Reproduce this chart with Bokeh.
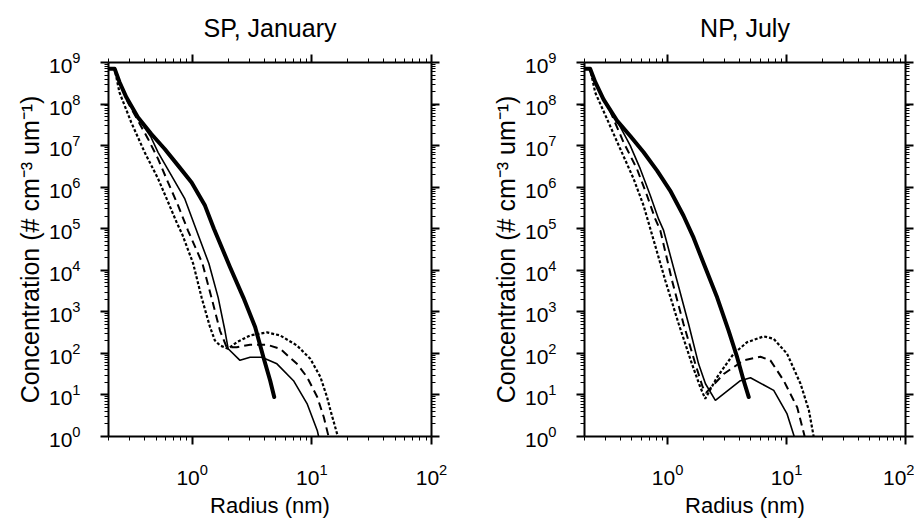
from bokeh.plotting import figure
from bokeh.layouts import row
from bokeh.models import LogAxis, FixedTicker, Range1d, CustomJSTickFormatter, Title
from bokeh.embed import file_html
from bokeh.resources import INLINE

FONT = "Liberation Sans"

# ---------------- tick values ----------------
x_major = [1, 10, 100]
x_minor = [0.2, 0.3, 0.4, 0.5, 0.6, 0.7, 0.8, 0.9,
           2, 3, 4, 5, 6, 7, 8, 9,
           20, 30, 40, 50, 60, 70, 80, 90]
y_major = [1, 1e1, 1e2, 1e3, 1e4, 1e5, 1e6, 1e7, 1e8, 1e9]
y_minor = [m * d for d in y_major[:-1] for m in (2, 3, 4, 5, 6, 7, 8, 9)]

# ---------------- SP, January ----------------
sp_thick_r = [0.2, 0.225, 0.247, 0.282, 0.352, 0.456, 0.59, 0.764, 0.99, 1.28, 1.52, 2.07, 2.68, 3.36, 3.94, 4.49, 4.85]
sp_thick_c = [7.1e8, 7.1e8, 3.4e8, 1.45e8, 4.8e7, 1.9e7, 8.3e6, 3.3e6, 1.3e6, 3.6e5, 1.0e5, 1.2e4, 2.2e3, 430, 81, 22, 8.9]

sp_thin_r = [0.2, 0.225, 0.247, 0.282, 0.352, 0.45, 0.519, 0.672, 0.869, 1.05, 1.14, 1.38, 1.65, 1.88, 2.0, 2.51, 3.05, 3.82, 5.11, 7.03, 9.12, 11.1, 11.4]
sp_thin_c = [7.1e8, 7.1e8, 3.4e8, 1.45e8, 4.6e7, 1.66e7, 6.9e6, 1.9e6, 5.2e5, 1.2e5, 6.3e4, 1.45e4, 2.2e3, 350, 129, 68, 81, 81, 56, 22, 6.2, 1.4, 1.0]

sp_dash_r = [0.2, 0.225, 0.247, 0.29, 0.428, 0.519, 0.629, 0.764, 0.925, 1.22, 1.45, 1.71, 1.94, 2.36, 3.05, 4.21, 5.44, 7.51, 9.12, 11.1, 12.6, 13.8]
sp_dash_c = [7.1e8, 7.1e8, 3.4e8, 1.1e8, 1.45e7, 4.8e6, 1.3e6, 3.6e5, 8.9e4, 1.45e4, 2.2e3, 350, 141, 141, 162, 162, 129, 56, 27, 8.9, 2.9, 1.0]

sp_dot_r = [0.2, 0.225, 0.247, 0.31, 0.401, 0.519, 0.629, 0.74, 0.83, 1.02, 1.2, 1.41, 1.55, 1.71, 2.0, 2.36, 3.05, 4.21, 5.44, 7.51, 9.71, 11.8, 13.4, 14.3, 16.5]
sp_dot_c = [7.1e8, 7.1e8, 1.9e8, 3.6e7, 6.9e6, 1.6e6, 4.4e5, 1.45e5, 7.1e4, 1.45e4, 2.2e3, 430, 204, 155, 129, 186, 270, 320, 270, 155, 74, 27, 8.9, 4.3, 1.0]

# ---------------- NP, July ----------------
np_thick_r = [0.2, 0.223, 0.246, 0.289, 0.375, 0.485, 0.628, 0.815, 1.05, 1.36, 1.655, 2.01, 2.61, 3.26, 3.84, 4.36, 4.81]
np_thick_c = [7.1e8, 7.1e8, 3.4e8, 1.3e8, 4.0e7, 1.7e7, 6.9e6, 2.5e6, 8.3e5, 2.05e5, 6.0e4, 1.45e4, 2.2e3, 350, 81, 22, 8.9]

np_thin_r = [0.2, 0.223, 0.246, 0.289, 0.375, 0.485, 0.589, 0.715, 0.84, 0.925, 1.2, 1.5, 1.82, 2.08, 2.52, 4.09, 4.97, 7.8, 10.1, 11.6]
np_thin_c = [7.1e8, 7.1e8, 3.4e8, 1.3e8, 4.0e7, 1.0e7, 2.75e6, 6.3e5, 1.7e5, 9.1e4, 5.6e3, 510, 56, 18.6, 7.4, 22, 26, 12.9, 3.5, 1.0]

np_dash_r = [0.2, 0.223, 0.246, 0.289, 0.33, 0.426, 0.552, 0.671, 0.788, 0.868, 1.09, 1.36, 1.71, 1.97, 2.1, 2.96, 4.36, 6.03, 7.31, 9.47, 12.3, 14.2]
np_dash_c = [7.1e8, 7.1e8, 3.4e8, 1.3e8, 6.6e7, 1.2e7, 2.75e6, 6.3e5, 1.7e5, 9.1e4, 5.6e3, 510, 56, 15.5, 11.2, 32, 68, 83, 68, 22, 5.0, 1.0]

np_dot_r = [0.2, 0.223, 0.246, 0.309, 0.40, 0.517, 0.628, 0.715, 0.957, 1.24, 1.6, 1.88, 2.07, 2.61, 3.59, 4.66, 6.43, 7.8, 10.1, 13.1, 15.4, 16.9]
np_dot_c = [7.1e8, 7.1e8, 1.9e8, 4.4e7, 8.3e6, 1.6e6, 3.6e5, 1.0e5, 5.6e3, 510, 56, 15.5, 8.1, 27, 98, 186, 257, 224, 98, 18.6, 4.3, 1.0]

Y_LABEL = "Concentration (# cm\u207b\u00b3 um\u207b\u00b9)"
X_LABEL = "Radius (nm)"


def style_axis(ax, labels):
    ax.axis_line_width = 2
    ax.axis_line_color = "black"
    ax.major_tick_line_width = 2
    ax.major_tick_line_color = "black"
    ax.minor_tick_line_width = 1
    ax.minor_tick_line_color = "black"
    ax.major_tick_out = 8
    ax.major_tick_in = 0
    ax.minor_tick_out = 4
    ax.minor_tick_in = 0
    ax.major_label_text_font = FONT
    ax.major_label_text_color = "black"
    if labels:
        ax.major_label_text_font_size = "21px"
    else:
        ax.major_label_text_font_size = "1px"
        ax.formatter = CustomJSTickFormatter(code="return ''")
        ax.major_label_standoff = 0


def panel(title, series, fw, bl, br):
    p = figure(x_axis_type="log", y_axis_type="log",
               x_range=Range1d(0.2, 100), y_range=Range1d(1, 1e9),
               frame_width=fw, frame_height=374,
               min_border_left=bl, min_border_right=br,
               min_border_top=62, min_border_bottom=70,
               output_backend="svg", toolbar_location=None, title=title)
    p.grid.visible = False
    p.outline_line_color = None
    p.background_fill_color = "white"
    p.border_fill_color = "white"
    p.title.align = "center"
    p.title.vertical_align = "top"
    p.title.text_font = FONT
    p.title.text_font_size = "25px"
    p.title.text_font_style = "normal"
    p.title.text_color = "black"
    p.title.standoff = 21

    xa = p.xaxis[0]
    xa.ticker = FixedTicker(ticks=x_major, minor_ticks=x_minor)
    style_axis(xa, True)
    xa.major_label_standoff = 19
    xa.axis_label = X_LABEL
    xa.axis_label_text_font = FONT
    xa.axis_label_text_font_size = "22px"
    xa.axis_label_text_font_style = "normal"
    xa.axis_label_text_color = "black"
    xa.axis_label_standoff = 5

    ya = p.yaxis[0]
    ya.ticker = FixedTicker(ticks=y_major, minor_ticks=y_minor)
    style_axis(ya, True)
    ya.major_label_standoff = 20

    top = LogAxis(ticker=FixedTicker(ticks=x_major, minor_ticks=x_minor))
    style_axis(top, False)
    p.add_layout(top, "above")
    right = LogAxis(ticker=FixedTicker(ticks=y_major, minor_ticks=y_minor))
    style_axis(right, False)
    p.add_layout(right, "right")

    p.add_layout(Title(text=Y_LABEL, align="center", offset=22,
                       text_font=FONT, text_font_size="25px",
                       text_font_style="normal", text_color="black",
                       standoff=4), "left")

    (tr, tc), (nr, nc), (dr, dc), (or_, oc) = series
    p.line(or_, oc, line_color="black", line_width=2.2, line_dash="3 2")
    p.line(dr, dc, line_color="black", line_width=2, line_dash="8 5")
    p.line(nr, nc, line_color="black", line_width=1.6)
    p.line(tr, tc, line_color="black", line_width=4, line_cap="round", line_join="round")
    return p


p1 = panel("SP, January",
           [(sp_thick_r, sp_thick_c), (sp_thin_r, sp_thin_c),
            (sp_dash_r, sp_dash_c), (sp_dot_r, sp_dot_c)],
           323, 108, 20)
p2 = panel("NP, July",
           [(np_thick_r, np_thick_c), (np_thin_r, np_thin_c),
            (np_dash_r, np_dash_c), (np_dot_r, np_dot_c)],
           321, 133, 9)

layout = row(p1, p2)
open("out.html", "w").write(file_html(layout, INLINE))
